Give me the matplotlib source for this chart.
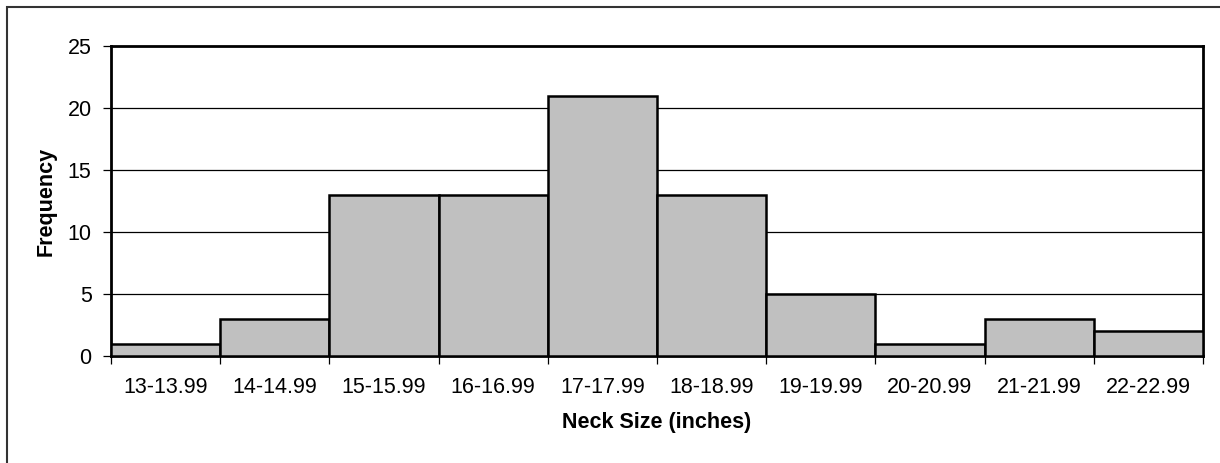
import matplotlib
matplotlib.use("Agg")
import matplotlib.pyplot as plt
import numpy as np
from matplotlib.patches import Rectangle

categories = ["13-13.99", "14-14.99", "15-15.99", "16-16.99", "17-17.99",
              "18-18.99", "19-19.99", "20-20.99", "21-21.99", "22-22.99"]
frequency = [1, 3, 13, 13, 21, 13, 5, 1, 3, 2]
y_ticks = [0, 5, 10, 15, 20, 25]

plt.rcParams['font.family'] = ['Liberation Sans', 'DejaVu Sans']

fig = plt.figure(figsize=(12.2, 4.63), dpi=100)
ax = fig.add_axes([111/1220, 1-356/463, (1203-111)/1220, (356-46)/463])

x = np.arange(len(categories))
ax.bar(x, frequency, width=1.0, color='#C0C0C0', edgecolor='black', linewidth=1.8, zorder=3)

ax.set_xlim(-0.5, len(categories) - 0.5)
ax.set_ylim(0, 25)
ax.set_yticks(y_ticks)
ax.set_yticklabels([str(v) for v in y_ticks])
for v in y_ticks[1:-1]:
    ax.axhline(v, color='black', linewidth=0.9, zorder=1)

ax.set_xticks(np.arange(len(categories) + 1) - 0.5)
ax.set_xticklabels([])
ax.set_xticks(x, minor=True)
ax.set_xticklabels(categories, minor=True)
ax.tick_params(axis='x', which='minor', length=0, pad=15, labelsize=15.5)
ax.tick_params(axis='x', which='major', length=6, width=0.9, direction='out')
ax.tick_params(axis='y', length=6, width=0.9, direction='out', pad=8, labelsize=15.5)

for s in ax.spines.values():
    s.set_linewidth(2)
    s.set_color('black')

ax.set_xlabel('Neck Size (inches)', fontsize=15.5, fontweight='bold', labelpad=10)
ax.set_ylabel('Frequency', fontsize=15.5, fontweight='bold', labelpad=8)

fig.patches.append(Rectangle((7/1220, -0.1), 1.2, 1 - 7/463 + 0.1, transform=fig.transFigure,
                             fill=False, edgecolor='#333333', linewidth=1.5))

fig.savefig('out.png', dpi=100)
